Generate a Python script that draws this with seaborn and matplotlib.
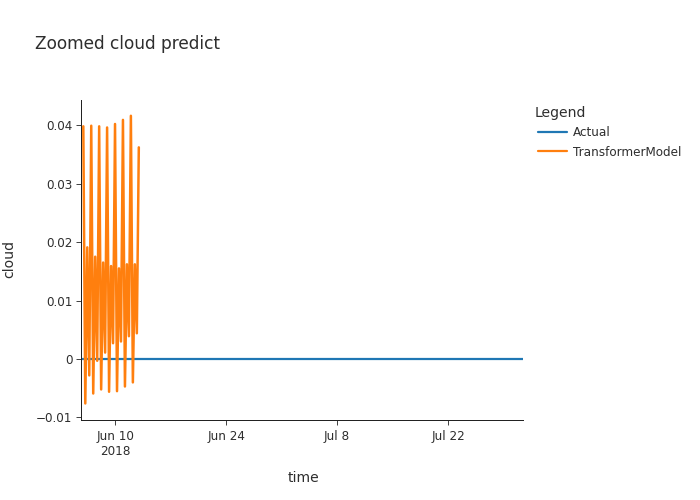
import matplotlib
matplotlib.use("Agg")
import matplotlib.pyplot as plt
import seaborn as sns
import pandas as pd

pred_start = "2018-06-06 00:00"
range_start = "2018-06-05 17:00"
range_end = "2018-07-31 11:00"

actual_times = [range_start, range_end]
actual_values = [0.0, 0.0]

cloud_pred = [
    0.0398, -0.0076, 0.0191, -0.0028,
    0.0399, -0.0059, 0.0175, -0.0003,
    0.0398, -0.0052, 0.0165, 0.0011,
    0.0396, -0.0056, 0.0159, 0.0027,
    0.0402, -0.0055, 0.0155, 0.0030,
    0.0409, -0.0047, 0.0162, 0.0039,
    0.0416, -0.0040, 0.0162, 0.0044,
    0.0362,
]
pred_times = pd.date_range(pred_start, periods=len(cloud_pred), freq="6h")

x_ticks = ["2018-06-10", "2018-06-24", "2018-07-08", "2018-07-22"]
x_labels = ["Jun 10\n2018", "Jun 24", "Jul 8", "Jul 22"]
y_ticks = [-0.01, 0, 0.01, 0.02, 0.03, 0.04]
y_labels = ["\u22120.01", "0", "0.01", "0.02", "0.03", "0.04"]

actual_df = pd.DataFrame({"time": pd.to_datetime(actual_times), "cloud": actual_values})
pred_df = pd.DataFrame({"time": pred_times, "cloud": cloud_pred})

sns.set_style("ticks")

text_color = "#2e2e2e"

fig = plt.figure(figsize=(7, 5), dpi=100)
ax = fig.add_axes([81 / 700, 1 - 420 / 500, 442 / 700, 320 / 500])

sns.lineplot(data=actual_df, x="time", y="cloud", color="#1f77b4", linewidth=1.6,
             label="Actual", ax=ax)
sns.lineplot(data=pred_df, x="time", y="cloud", color="#ff7f0e", linewidth=1.8,
             label="TransformerModel", ax=ax)

ax.set_xlim(pd.Timestamp(range_start), pd.Timestamp(range_end))
ax.set_ylim(-0.01043, 0.0443)

ax.set_xticks(pd.to_datetime(x_ticks))
ax.set_xticklabels(x_labels, fontsize=8.64, color=text_color, linespacing=1.18)
ax.set_yticks(y_ticks)
ax.set_yticklabels(y_labels, fontsize=8.64, color=text_color)
ax.tick_params(axis="x", length=3.6, width=0.72, color="#444444", pad=3.9)
ax.tick_params(axis="y", length=3.6, width=0.72, color="#444444", pad=2.5)

ax.set_xlabel("time", fontsize=10.08, color=text_color)
ax.set_ylabel("cloud", fontsize=10.08, color=text_color)
ax.xaxis.set_label_coords(223 / 442, -51 / 320)
ax.yaxis.set_label_coords(-65 / 442, 161 / 320)

for side in ["left", "bottom"]:
    ax.spines[side].set_linewidth(0.72)
    ax.spines[side].set_color("#222222")
sns.despine(ax=ax)

leg = ax.legend(loc="upper left", bbox_to_anchor=(538 / 700, 1 - 126 / 500),
                bbox_transform=fig.transFigure, frameon=False, fontsize=8.64,
                labelcolor=text_color, handlelength=2.4, handletextpad=0.5,
                labelspacing=0.55, borderpad=0, borderaxespad=0)
for handle in leg.get_lines():
    handle.set_linewidth(1.6)

fig.text(535 / 700, 1 - 113 / 500, "Legend", fontsize=10.08, color=text_color, va="center")
fig.text(35 / 700, 1 - 44 / 500, "Zoomed cloud predict", fontsize=12.24, color=text_color, va="center")

plt.savefig("out.png", dpi=100)
